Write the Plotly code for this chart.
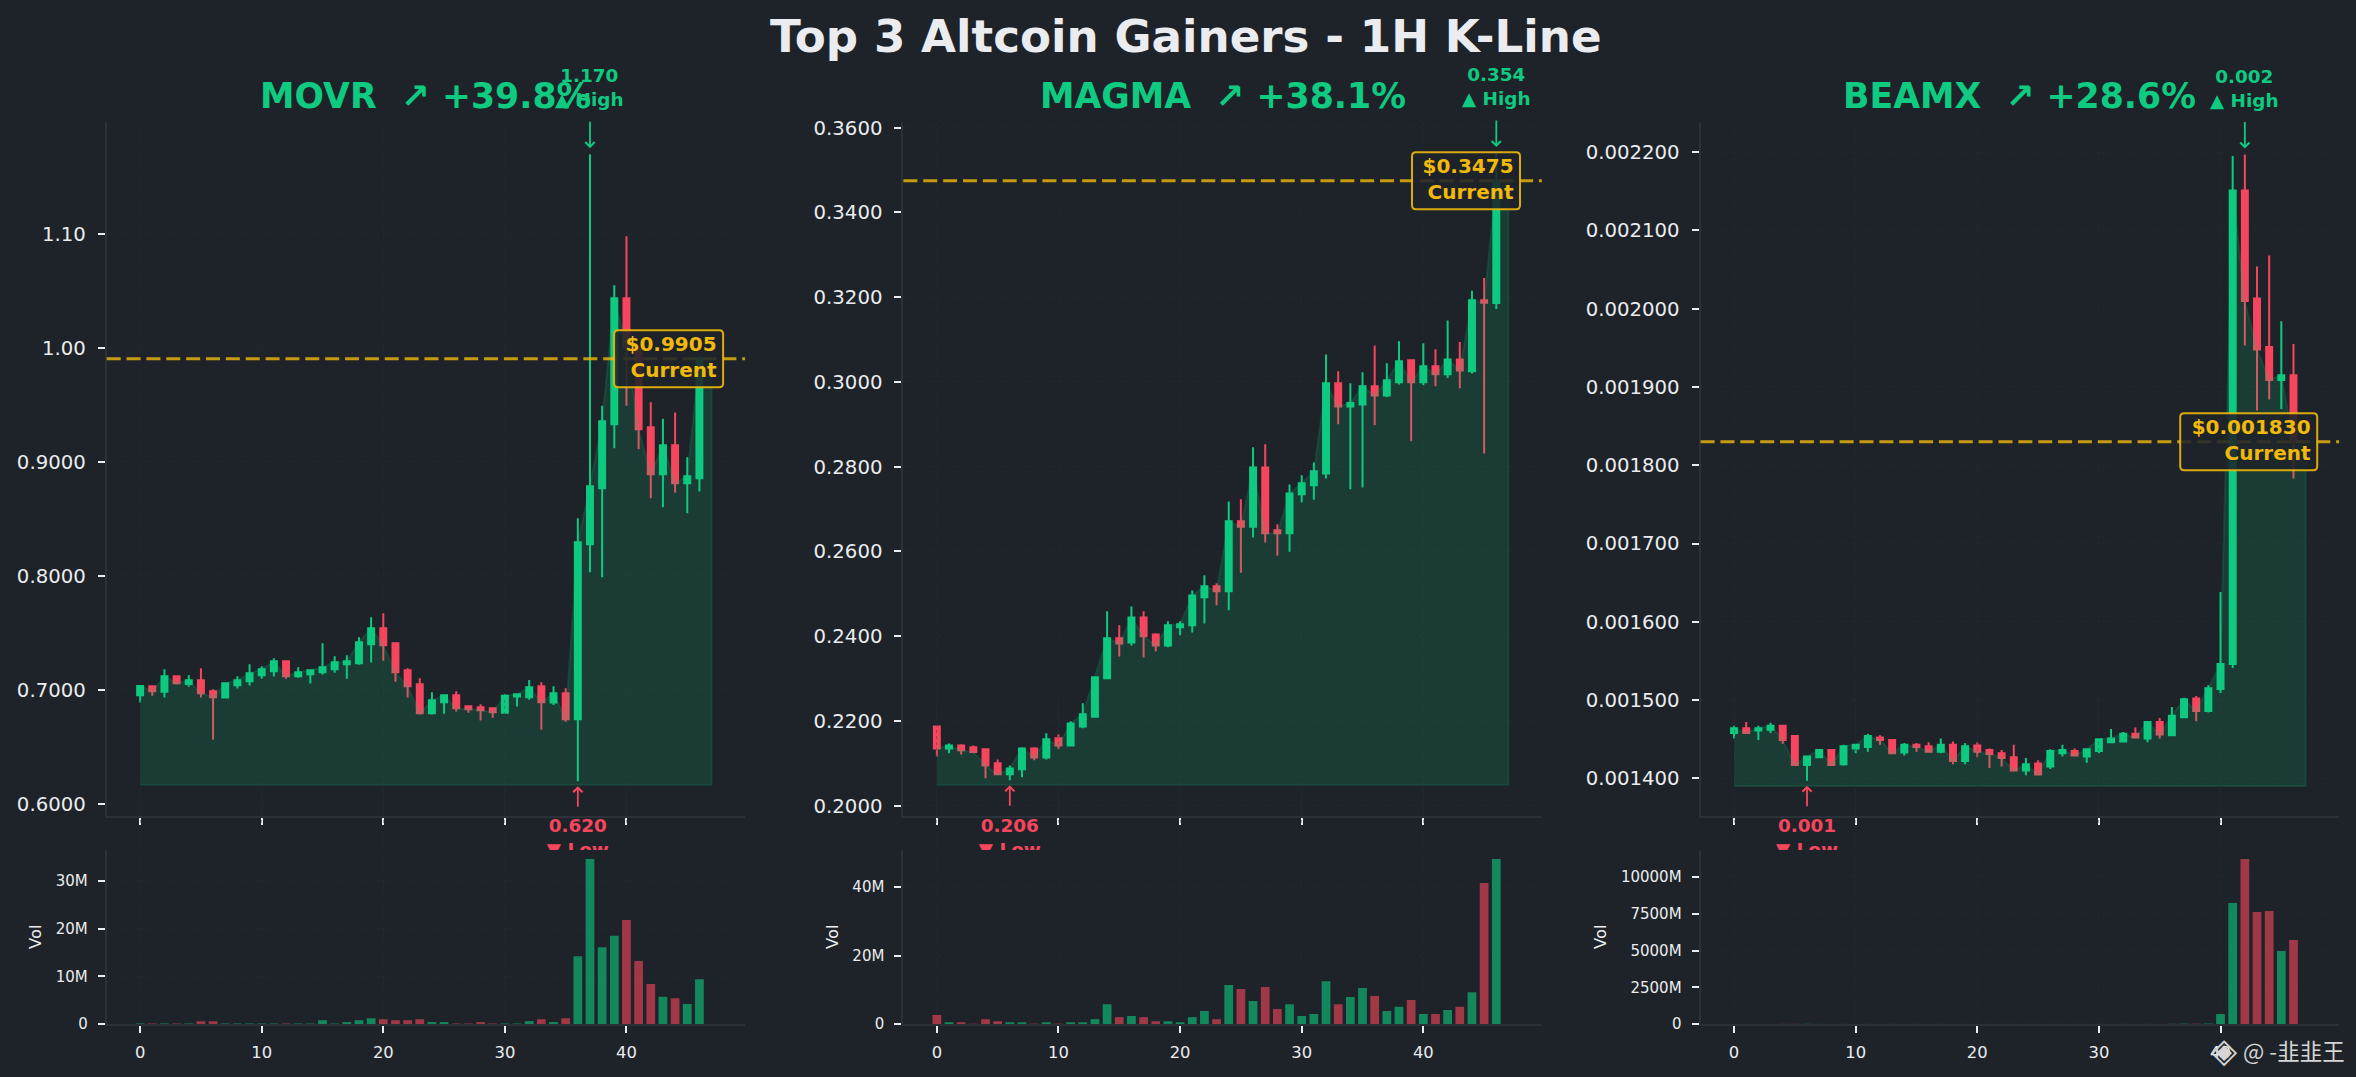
import plotly.graph_objects as go

W, H = 2356, 1077
BG = "#1E2329"
GREEN = "#0ECB81"
RED = "#F6465D"
GOLD = "#F0B90B"
SPINE = "#2B3139"
TEXT = "#EAECEF"
FONT = "DejaVu Sans"

days = list(range(47))
area_days = list(range(48))
x_ticks = [0, 10, 20, 30, 40]

# ---------- MOVR ----------
movr_open = [.6953,.7032,.6985,.7120,.7053,.7085,.6988,.6933,.7041,.7076,.7129,.7164,.7251,.7120,.7137,.7155,.7181,.7225,.7234,.7401,.7541,.7409,.7173,.7050,.6795,.6892,.6953,.6857,.6848,.6839,.6801,.6942,.6936,.7032,.6889,.6971,.6743,.8278,.8769,.9330,1.0436,1.0003,.9304,.8892,.9146,.8813,.8857]
movr_high = [.7041,.7041,.7181,.7120,.7129,.7190,.7006,.7064,.7120,.7225,.7208,.7278,.7251,.7199,.7173,.7409,.7295,.7304,.7462,.7637,.7673,.7409,.7190,.7102,.6980,.6953,.6988,.6865,.6874,.6848,.6962,.6971,.7088,.7067,.7032,.7015,.8506,1.170,.9494,1.0550,1.0980,1.0003,.9523,.9380,.9433,.9041,.9930]
movr_low = [.6889,.6950,.6933,.7047,.7029,.6933,.6564,.6924,.7012,.7038,.7099,.7117,.7099,.7108,.7056,.7135,.7152,.7099,.7222,.7240,.7257,.7073,.6933,.6784,.6784,.6792,.6810,.6801,.6731,.6757,.6801,.6854,.6915,.6652,.6868,.6722,.6200,.8032,.7988,.9120,.9494,.9111,.8681,.8602,.8731,.8550,.8740]
movr_close = [.7035,.6988,.7120,.7058,.7085,.6971,.6936,.7058,.7085,.7146,.7181,.7251,.7120,.7155,.7173,.7199,.7243,.7251,.7418,.7541,.7392,.7155,.7032,.6795,.6909,.6953,.6839,.6830,.6822,.6804,.6950,.6962,.7023,.6892,.6971,.6743,.8295,.8787,.9357,1.0436,1.0003,.9287,.8892,.9146,.8813,.8874,.9905]
movr_vol = [.1,.1,.1,.1,.1,.6,.6,.1,.1,.1,.1,.1,.1,.1,.1,.8,.1,.4,.8,1.2,1.0,.8,.8,1.0,.4,.4,.1,.1,.4,.1,.1,.1,.6,1.0,.4,1.2,14.2,34.6,16.1,18.5,21.8,13.2,8.4,5.7,5.4,4.2,9.4]
movr_yticks = [0.6, 0.7, 0.8, 0.9, 1.0, 1.1]
movr_ylabels = ["0.6000", "0.7000", "0.8000", "0.9000", "1.00", "1.10"]
movr_vticks = [0, 10, 20, 30]
movr_vlabels = ["0", "10M", "20M", "30M"]

# ---------- MAGMA ----------
magma_open = [.2187,.2135,.2142,.2138,.2133,.2100,.2074,.2086,.2135,.2114,.2159,.2142,.2187,.2210,.2301,.2395,.2385,.2444,.2404,.2378,.2421,.2426,.2492,.2518,.2506,.2671,.2658,.2798,.2650,.2643,.2735,.2756,.2784,.2997,.2942,.2947,.2990,.2968,.2999,.3051,.2999,.3037,.3018,.3053,.3025,.3193,.3186]
magma_high = [.2189,.2147,.2145,.2142,.2135,.2109,.2095,.2138,.2138,.2171,.2168,.2199,.2242,.2305,.2459,.2426,.2470,.2459,.2407,.2435,.2435,.2508,.2544,.2525,.2718,.2723,.2846,.2853,.2664,.2758,.2780,.2810,.3065,.3025,.2997,.3023,.3086,.3044,.3096,.3053,.3091,.3077,.3145,.3094,.3215,.3245,.3540]
magma_low = [.2116,.2124,.2121,.2124,.2065,.2074,.2060,.2067,.2107,.2109,.2133,.2142,.2183,.2208,.2301,.2352,.2378,.2350,.2364,.2374,.2402,.2409,.2430,.2473,.2461,.2550,.2633,.2621,.2590,.2599,.2716,.2722,.2772,.2900,.2747,.2751,.2898,.2964,.2994,.2860,.2992,.2990,.3009,.2985,.3020,.2831,.3172]
magma_close = [.2135,.2142,.2131,.2127,.2095,.2074,.2088,.2135,.2114,.2157,.2142,.2194,.2216,.2303,.2395,.2383,.2444,.2400,.2378,.2426,.2428,.2496,.2518,.2506,.2671,.2658,.2798,.2643,.2643,.2737,.2761,.2789,.2997,.2942,.2950,.2990,.2968,.3004,.3049,.2999,.3037,.3018,.3053,.3027,.3193,.3187,.3475]
magma_vol = [2.6,.5,.5,.1,1.4,.8,.5,.5,.1,.5,.1,.5,.5,1.4,5.8,2.0,2.3,2.0,.8,.8,.5,2.0,3.8,1.4,11.4,10.2,6.7,10.8,4.4,5.8,2.3,2.9,12.5,5.8,7.9,10.5,8.2,3.8,5.0,7.0,2.9,2.9,4.1,5.0,9.3,41.2,48.2]
magma_yticks = [.20, .22, .24, .26, .28, .30, .32, .34, .36]
magma_ylabels = ["0.2000", "0.2200", "0.2400", "0.2600", "0.2800", "0.3000", "0.3200", "0.3400", "0.3600"]
magma_vticks = [0, 20, 40]
magma_vlabels = ["0", "20M", "40M"]

# ---------- BEAMX ----------
beamx_open = [.001458,.001464,.001461,.001462,.001467,.001454,.001417,.001427,.001436,.001418,.001438,.001440,.001452,.001449,.001433,.001443,.001441,.001434,.001443,.001422,.001442,.001436,.001432,.001427,.001410,.001419,.001415,.001432,.001435,.001428,.001435,.001446,.001447,.001457,.001451,.001472,.001455,.001478,.001502,.001486,.001514,.001546,.002151,.002013,.001951,.001909,.001915]
beamx_high = [.001467,.001472,.001467,.001471,.001467,.001454,.001429,.001437,.001437,.001443,.001443,.001457,.001455,.001450,.001445,.001445,.001446,.001451,.001447,.001445,.001446,.001438,.001436,.001443,.001426,.001423,.001437,.001443,.001438,.001437,.001450,.001463,.001459,.001465,.001473,.001477,.001491,.001503,.001505,.001519,.001638,.002195,.002197,.002054,.002068,.001984,.001955]
beamx_low = [.001451,.001458,.001449,.001458,.001444,.001416,.001397,.001426,.001416,.001416,.001432,.001434,.001443,.001432,.001429,.001434,.001434,.001432,.001418,.001418,.001427,.001413,.001415,.001410,.001404,.001405,.001412,.001428,.001428,.001420,.001432,.001445,.001446,.001452,.001446,.001451,.001455,.001478,.001473,.001484,.001509,.001541,.001953,.001870,.001884,.001872,.001783]
beamx_close = [.001464,.001458,.001464,.001467,.001449,.001417,.001428,.001436,.001417,.001441,.001443,.001454,.001449,.001432,.001443,.001440,.001434,.001443,.001422,.001441,.001434,.001431,.001426,.001410,.001418,.001405,.001435,.001436,.001429,.001437,.001450,.001451,.001457,.001452,.001472,.001456,.001480,.001501,.001486,.001515,.001546,.002151,.002010,.001948,.001909,.001915,.001830]
beamx_vol = [5,5,5,5,8,10,10,5,5,5,5,5,5,5,5,5,5,5,5,5,5,5,5,5,5,5,5,5,5,5,5,5,5,5,5,5,10,20,20,30,680,8230,11220,7620,7690,4970,5710]
beamx_yticks = [.0014, .0015, .0016, .0017, .0018, .0019, .0020, .0021, .0022]
beamx_ylabels = ["0.001400", "0.001500", "0.001600", "0.001700", "0.001800", "0.001900", "0.002000", "0.002100", "0.002200"]
beamx_vticks = [0, 2500, 5000, 7500, 10000]
beamx_vlabels = ["0", "2500M", "5000M", "7500M", "10000M"]

panels = [
    dict(sym="MOVR", pct="+39.8%", o=movr_open, h=movr_high, l=movr_low, c=movr_close, v=movr_vol,
         yt=movr_yticks, yl=movr_ylabels, vt=movr_vticks, vl=movr_vlabels,
         yr=[.5897, 1.1982], vr=[0, 36.5], left=106.7, right=745.0, volx=35, boxw=109,
         hi_x=37, hi_txt="1.170", lo_x=36, lo_txt="0.620", cur="$0.9905"),
    dict(sym="MAGMA", pct="+38.1%", o=magma_open, h=magma_high, l=magma_low, c=magma_close, v=magma_vol,
         yt=magma_yticks, yl=magma_ylabels, vt=magma_vticks, vl=magma_vlabels,
         yr=[.19764, .36134], vr=[0, 50.8], left=903.4, right=1541.9, volx=832, boxw=108,
         hi_x=46, hi_txt="0.354", lo_x=6, lo_txt="0.206", cur="$0.3475"),
    dict(sym="BEAMX", pct="+28.6%", o=beamx_open, h=beamx_high, l=beamx_low, c=beamx_close, v=beamx_vol,
         yt=beamx_yticks, yl=beamx_ylabels, vt=beamx_vticks, vl=beamx_vlabels,
         yr=[.0013522, .0022386], vr=[0, 11836], left=1700.6, right=2339.1, volx=1600, boxw=137,
         hi_x=42, hi_txt="0.002", lo_x=6, lo_txt="0.001", cur="$0.001830"),
]

MAIN_TOP, MAIN_BOT = 122.0, 815.7
VOL_TOP, VOL_BOT = 850.0, 1024.0
CLIP_TOP = 700.0
XR = [-2.75, 49.75]
BOX_H = 57
BOX_R = 4


def py(px):
    return 1 - px / H


def round_box(w, h, r):
    """Rounded rectangle path, in pixels from its right-centre anchor."""
    t, b = h / 2, -h / 2
    return (f"M {-w + r} {b} L {-r} {b} Q 0 {b} 0 {b + r} L 0 {t - r} Q 0 {t} {-r} {t} "
            f"L {-w + r} {t} Q {-w} {t} {-w} {t - r} L {-w} {b + r} Q {-w} {b} {-w + r} {b} Z")


fig = go.Figure()
annotations = []
shapes = []
layout = {}

for n, p in enumerate(panels):
    i = n + 1
    s_main = "" if i == 1 else str(i)
    xm, ym = f"x{s_main}", f"y{s_main}"
    xv, yv = f"x{i + 3}", f"y{i + 3}"
    yc = f"y{i + 6}"
    base = min(p["l"]) * 0.995
    area_close = p["c"] + [p["c"][-1]]

    # Area under the closes
    fig.add_trace(go.Scatter(
        x=area_days + area_days[::-1], y=area_close + [base] * len(area_days), xaxis=xm, yaxis=ym, mode="lines",
        fill="toself", fillcolor="rgba(14,203,129,0.15)",
        line=dict(color="rgba(14,203,129,0.15)", width=2), hoverinfo="skip", showlegend=False))
    # Candles
    fig.add_trace(go.Candlestick(
        x=days, open=p["o"], high=p["h"], low=p["l"], close=p["c"], xaxis=xm, yaxis=ym,
        increasing=dict(line=dict(color=GREEN, width=2), fillcolor=GREEN),
        decreasing=dict(line=dict(color=RED, width=2), fillcolor=RED),
        whiskerwidth=0, showlegend=False, hoverinfo="skip"))
    # Volume
    colors = ["rgba(14,203,129,0.6)" if c >= o else "rgba(246,70,93,0.6)" for o, c in zip(p["o"], p["c"])]
    fig.add_trace(go.Bar(x=days, y=p["v"], xaxis=xv, yaxis=yv, width=0.72,
                         marker=dict(color=colors, line=dict(width=0)), showlegend=False, hoverinfo="skip"))
    # Low label, clipped by its own hidden strip where the volume panel starts
    fig.add_trace(go.Scatter(
        x=[p["lo_x"]], y=[0.213], xaxis=xm, yaxis=yc, mode="text",
        text=[f"<b>{p['lo_txt']}<br>▼ Low</b>"], textposition="bottom center", cliponaxis=True,
        textfont=dict(family=FONT, size=18.4, color=RED), showlegend=False, hoverinfo="skip"))

    dom = [p["left"] / W, p["right"] / W]
    common_x = dict(domain=dom, range=XR, tickvals=x_ticks, ticks="outside", ticklen=7, tickwidth=2,
                    tickcolor=TEXT, showline=True, linecolor=SPINE, linewidth=2,
                    showgrid=True, gridcolor="rgba(43,49,57,0.35)", griddash="dot", gridwidth=1,
                    zeroline=False, fixedrange=True)
    common_y = dict(ticks="outside", ticklen=7, tickwidth=2, tickcolor=TEXT, showline=True, linecolor=SPINE,
                    linewidth=2, showgrid=True, gridcolor="rgba(43,49,57,0.35)", griddash="dot", gridwidth=1,
                    zeroline=False, fixedrange=True)
    layout[f"xaxis{s_main}"] = dict(anchor=ym, showticklabels=False, rangeslider=dict(visible=False), **common_x)
    layout[f"yaxis{s_main}"] = dict(anchor=xm, domain=[py(MAIN_BOT), py(MAIN_TOP)], range=p["yr"],
                                    tickvals=p["yt"], ticktext=p["yl"], ticklabelstandoff=8,
                                    tickfont=dict(family=FONT, size=19.7, color=TEXT), **common_y)
    layout[f"xaxis{i + 3}"] = dict(anchor=yv, tickfont=dict(family=FONT, size=16.4, color=TEXT),
                                   ticklabelstandoff=5, **common_x)
    layout[f"yaxis{i + 3}"] = dict(anchor=xv, domain=[py(VOL_BOT), py(VOL_TOP)], range=p["vr"],
                                   tickvals=p["vt"], ticktext=p["vl"], ticklabelstandoff=7,
                                   tickfont=dict(family=FONT, size=15, color=TEXT), **common_y)
    layout[f"yaxis{i + 6}"] = dict(anchor=xm, domain=[py(VOL_TOP), py(CLIP_TOP)], range=[0, 1],
                                   visible=False, fixedrange=True)

    # Panel title
    annotations.append(dict(xref="paper", yref="paper", x=(p["left"] + p["right"]) / 2 / W, y=py(96),
                            xanchor="center", yanchor="middle", showarrow=False,
                            text=f"<b>{p['sym']}  ↗ {p['pct']}</b>",
                            font=dict(family=FONT, size=34.7, color=GREEN)))
    # High arrow + label
    hi_val = p["h"][p["hi_x"]]
    annotations.append(dict(x=p["hi_x"], y=hi_val, xref=xm, yref=ym, ax=0, ay=-34, axref="pixel", ayref="pixel",
                            text="", showarrow=True, arrowhead=4, arrowsize=1, arrowwidth=1.8,
                            arrowcolor=GREEN, standoff=6))
    annotations.append(dict(x=p["hi_x"], y=hi_val, xref=xm, yref=ym, showarrow=False, yanchor="bottom", yshift=42,
                            align="center", text=f"<b>{p['hi_txt']}<br>▲ High</b>",
                            font=dict(family=FONT, size=18.4, color=GREEN)))
    # Low arrow
    lo_val = p["l"][p["lo_x"]]
    annotations.append(dict(x=p["lo_x"], y=lo_val, xref=xm, yref=ym, ax=0, ay=27, axref="pixel", ayref="pixel",
                            text="", showarrow=True, arrowhead=4, arrowsize=1, arrowwidth=1.8,
                            arrowcolor=RED, standoff=5))
    # Current price: dashed line, rounded box, label
    cur_val = p["c"][-1]
    shapes.append(dict(type="line", xref=f"{xm} domain", yref=ym, x0=0, x1=1, y0=cur_val, y1=cur_val,
                       layer="above", line=dict(color="rgba(240,185,11,0.8)", width=3, dash="14px,5.86px")))
    shapes.append(dict(type="path", xref=xm, yref=ym, xsizemode="pixel", ysizemode="pixel",
                       xanchor=47.95, yanchor=cur_val, path=round_box(p["boxw"], BOX_H, BOX_R), layer="above",
                       fillcolor="rgba(30,35,41,0.88)", line=dict(color="rgba(240,185,11,0.9)", width=2)))
    annotations.append(dict(x=47.95, y=cur_val, xref=xm, yref=ym, xanchor="right", yanchor="middle", showarrow=False,
                            align="right", text=f"<b>{p['cur']}<br>Current</b>", width=p["boxw"] - 10, height=47,
                            yshift=2, font=dict(family=FONT, size=20, color=GOLD), borderpad=5))
    # Vol label
    annotations.append(dict(xref="paper", yref="paper", x=p["volx"] / W, y=py(937), xanchor="center",
                            yanchor="middle", showarrow=False, text="Vol", textangle=-90,
                            font=dict(family=FONT, size=16.4, color=TEXT)))

# Suptitle
annotations.append(dict(xref="paper", yref="paper", x=1186 / W, y=py(37), xanchor="center", yanchor="middle",
                        showarrow=False, text="<b>Top 3 Altcoin Gainers - 1H K-Line</b>",
                        font=dict(family=FONT, size=45.2, color=TEXT)))
# Watermark
annotations.append(dict(xref="paper", yref="paper", x=2224 / W, y=py(1050), xanchor="center", yanchor="middle",
                        showarrow=False, text="◈", font=dict(family=FONT, size=34, color="#D5D5D5")))
annotations.append(dict(xref="paper", yref="paper", x=2347 / W, y=py(1050), xanchor="right", yanchor="middle",
                        showarrow=False, text="@ -韭韭王", font=dict(family="Noto Sans CJK SC", size=22.5, color="#D5D5D5")))

fig.update_layout(width=W, height=H, margin=dict(l=0, r=0, t=0, b=0, pad=0, autoexpand=False),
                  paper_bgcolor=BG, plot_bgcolor="rgba(0,0,0,0)",
                  showlegend=False, bargap=0.3, annotations=annotations, shapes=shapes,
                  font=dict(family=FONT, color=TEXT), **layout)

fig.write_html("out.html", config=dict(displayModeBar=False),
               post_script="document.body.style.margin='0';document.documentElement.style.background='#1E2329';")
